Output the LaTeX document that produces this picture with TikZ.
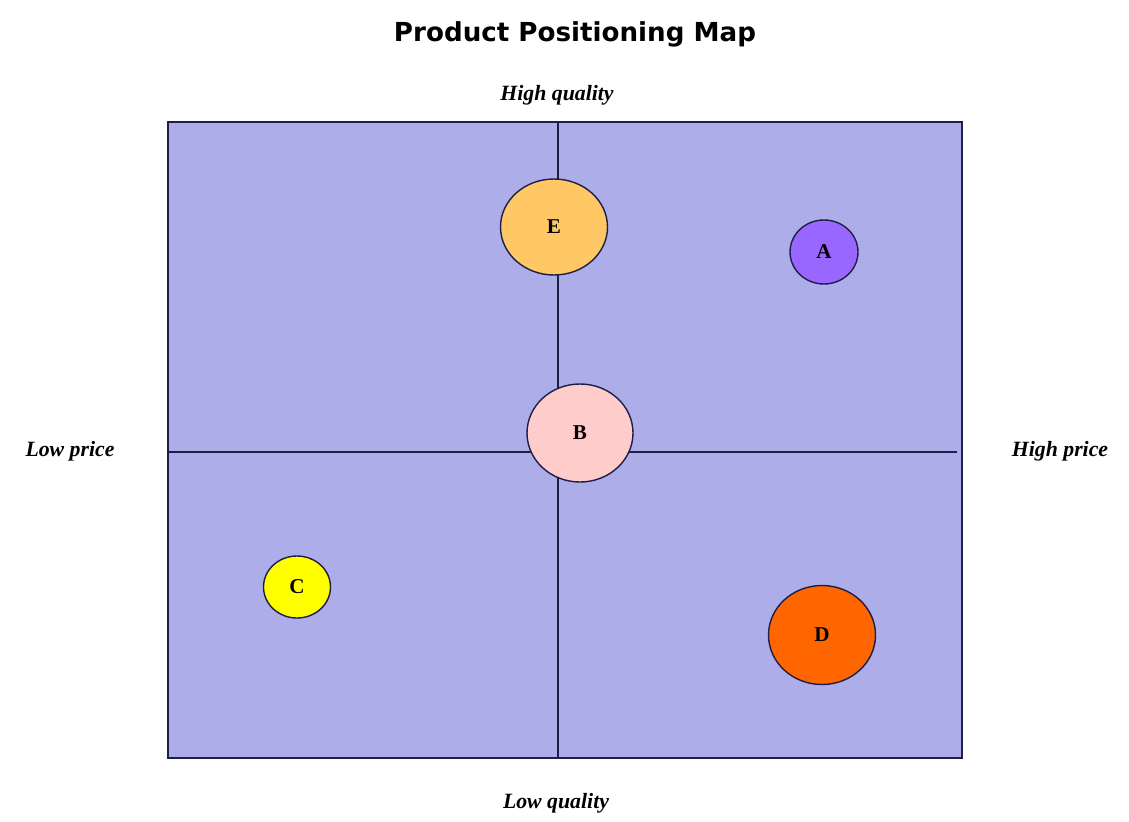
\documentclass[tikz,border=0pt]{standalone}
\usepackage{fontspec}
\setmainfont{Liberation Serif}
\newfontfamily\titlefont{DejaVu Sans}
\usetikzlibrary{shapes.geometric}
\usetikzlibrary{positioning}
\definecolor{MAP-BG}{RGB}{173,173,233}
\definecolor{MAP-LINE}{RGB}{30,30,70}
\definecolor{PROD-A}{RGB}{153,102,255}
\definecolor{PROD-B}{RGB}{255,204,204}
\definecolor{PROD-C}{RGB}{255,255,0}
\definecolor{PROD-D}{RGB}{255,102,0}
\definecolor{PROD-E}{RGB}{255,200,100}

\begin{document}
\begin{tikzpicture}[x={(0.025cm,0)},y={(0,-0.025cm)},
		product/.style={draw=MAP-LINE,ellipse,line width=1pt,inner sep=0pt,font=\bfseries\fontsize{15}{15}\selectfont},
		axislabel/.style={font=\bfseries\itshape\fontsize{15.5}{16}\selectfont}]
			\useasboundingbox (0,0) rectangle (1129,821);

			% draw map area and axes
			\draw[MAP-LINE,fill=MAP-BG,line width=0.9pt] (168,122) rectangle (962,758);
			\coordinate (top) at (558,122);
			\coordinate (bottom) at (558,758);
			\coordinate (left) at (168,452);
			\coordinate (right) at (957,452);
			\draw[MAP-LINE,line width=0.9pt] (top) -- (bottom);
			\draw[MAP-LINE,line width=0.9pt] (left) -- (right);

			% draw labels
			\node (title) at (575,34) {\titlefont\bfseries\fontsize{18.6}{20}\selectfont Product Positioning Map};
			\node[axislabel] (hq) at (557,95) {High quality};
			\node[axislabel] (lq) at (556,803) {Low quality};
			\node[axislabel] (lp) at (70,451) {Low price};
			\node[axislabel] (hp) at (1060,451) {High price};

			% draw products
			\node[product,fill=PROD-E,minimum width=107*0.025cm,minimum height=96*0.025cm] (E) at (554,227) {E};
			\node[product,fill=PROD-A,minimum width=68*0.025cm,minimum height=64*0.025cm] (A) at (824,252) {A};
			\node[product,fill=PROD-B,minimum width=106*0.025cm,minimum height=98*0.025cm] (B) at (580,433) {B};
			\node[product,fill=PROD-C,minimum width=67*0.025cm,minimum height=62*0.025cm] (C) at (297,587) {C};
			\node[product,fill=PROD-D,minimum width=107*0.025cm,minimum height=99*0.025cm] (D) at (822,635) {D};
		\end{tikzpicture}
\end{document}
